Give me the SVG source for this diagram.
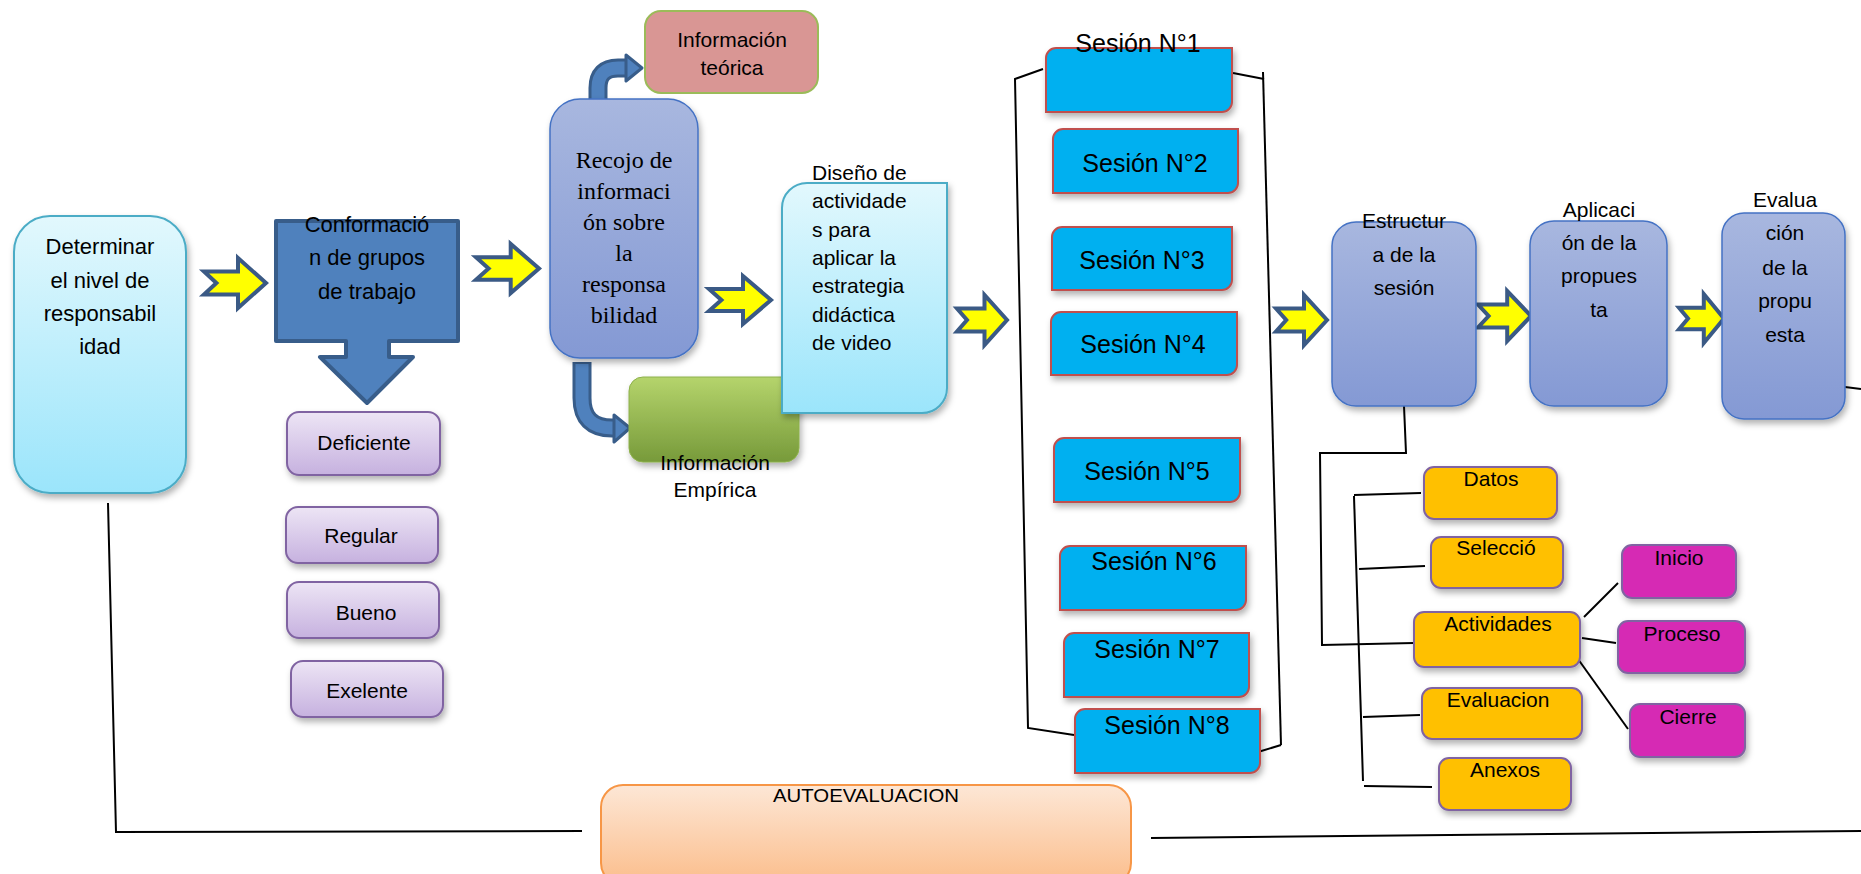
<svg xmlns="http://www.w3.org/2000/svg" width="1861" height="874" viewBox="0 0 1861 874">
<defs>
<linearGradient id="gCyan" x1="0" y1="0" x2="0" y2="1"><stop offset="0" stop-color="#e2f8fd"/><stop offset="1" stop-color="#9be5fb"/></linearGradient>
<linearGradient id="gPurple" x1="0" y1="0" x2="0" y2="1"><stop offset="0" stop-color="#ede5f5"/><stop offset="1" stop-color="#c6b1df"/></linearGradient>
<linearGradient id="gBlue" x1="0" y1="0" x2="0" y2="1"><stop offset="0" stop-color="#a8b7df"/><stop offset="1" stop-color="#8499d4"/></linearGradient>
<linearGradient id="gGreen" x1="0" y1="0" x2="0" y2="1"><stop offset="0" stop-color="#b5d46c"/><stop offset="1" stop-color="#779a3a"/></linearGradient>
<linearGradient id="gOrange" x1="0" y1="0" x2="0" y2="1"><stop offset="0" stop-color="#fde7d6"/><stop offset="1" stop-color="#fbbd8b"/></linearGradient>
<filter id="sh" x="-10%" y="-10%" width="130%" height="130%"><feDropShadow dx="2" dy="4" stdDeviation="3" flood-color="#000" flood-opacity="0.3"/></filter>
</defs>
<style>
.t{font-family:"Liberation Sans",Arial,sans-serif;fill:#000;text-anchor:middle}
.ts{font-family:"Liberation Serif","Times New Roman",serif;fill:#000;text-anchor:middle;font-size:24px}
.cyan{fill:url(#gCyan);stroke:#4bacc6;stroke-width:2}
.purple{fill:url(#gPurple);stroke:#8064a2;stroke-width:2}
.blue{fill:url(#gBlue);stroke:#4472c4;stroke-width:1.5}
.ses{fill:#00b0f0;stroke:#c0504d;stroke-width:2}
.orng{fill:#ffc000;stroke:#8064a2;stroke-width:2}
.mag{fill:#d62bb4;stroke:#8064a2;stroke-width:2}
.yarr{fill:#ffff00;stroke:#3b5a85;stroke-width:4;stroke-linejoin:miter}
.ln{stroke:#000;stroke-width:2;fill:none}
.s25{font-size:25px}
.s22{font-size:22px}
.s21{font-size:21px}
.s20{font-size:20px}
</style>

<g id="connectors">
<polygon class="yarr" points="204,271.5 238,271.5 238,258 266,283 238,308 238,294.5 204,294.5 216.4,283"/>
<polygon class="yarr" points="476,257.2 510.7,257.2 510.7,244 539,268.5 510.7,293 510.7,279.8 476,279.8 488.6,268.5"/>
<polygon class="yarr" points="709,289 743,289 743,276 771,300 743,324 743,311 709,311 721.4,300"/>
<polygon class="yarr" points="957,308.5 984.5,308.5 984.5,295 1007,320 984.5,345 984.5,331.5 957,331.5 967,320"/>
<polygon class="yarr" points="1276,308.5 1304,308.5 1304,295 1327,320 1304,345 1304,331.5 1276,331.5 1286.2,320"/>
<polygon class="yarr" points="1478,304.5 1507.2,304.5 1507.2,291 1531,316 1507.2,341 1507.2,327.5 1478,327.5 1488.6,316"/>
<polygon class="yarr" points="1679,307.7 1703.8,307.7 1703.8,294 1724,318.5 1703.8,343 1703.8,329.3 1679,329.3 1688,318.5"/>
<!-- curved arrows from Recojo -->
<path d="M598,126 V88 Q598,68 618,68 H627" fill="none" stroke="#385d8a" stroke-width="19"/>
<path d="M598,124 V88 Q598,68 618,68 H628" fill="none" stroke="#4f81bd" stroke-width="13"/>
<polygon points="626,55 642,68 626,81" fill="#4f81bd" stroke="#385d8a" stroke-width="3" stroke-linejoin="round"/>
<path d="M582,362 V398 Q582,428 612,428 H615" fill="none" stroke="#385d8a" stroke-width="19"/>
<path d="M582,364 V398 Q582,428 612,428 H616" fill="none" stroke="#4f81bd" stroke-width="13"/>
<polygon points="614,415 630,428 614,442" fill="#4f81bd" stroke="#385d8a" stroke-width="3" stroke-linejoin="round"/>
<!-- session brackets -->
<polyline class="ln" points="1043,69 1015,79 1028,728 1074,735"/>
<line class="ln" x1="1233" y1="73" x2="1264" y2="79"/>
<line class="ln" x1="1263" y1="72" x2="1281" y2="745"/>
<line class="ln" x1="1281" y1="745" x2="1258" y2="752"/>
<!-- structure tree -->
<polyline class="ln" points="1404,406 1406,453 1320,453 1322,645 1414,643"/>
<line class="ln" x1="1354" y1="496" x2="1363" y2="781"/>
<line class="ln" x1="1354" y1="495" x2="1421" y2="493"/>
<line class="ln" x1="1359" y1="569" x2="1425" y2="566"/>
<line class="ln" x1="1363" y1="717" x2="1420" y2="715"/>
<line class="ln" x1="1364" y1="786" x2="1432" y2="787"/>
<line class="ln" x1="1584" y1="617" x2="1618" y2="583"/>
<line class="ln" x1="1582" y1="638" x2="1616" y2="643"/>
<line class="ln" x1="1578" y1="659" x2="1628" y2="729"/>
<!-- autoevaluacion loop -->
<polyline class="ln" points="108,503 116,832 582,831"/>
<line class="ln" x1="1151" y1="838" x2="1861" y2="831"/>
<line class="ln" x1="1845" y1="387" x2="1861" y2="389"/>
</g>

<g id="n-determinar">
<rect class="cyan" x="14" y="216" width="172" height="277" rx="36" filter="url(#sh)"/>
<text class="t s22" x="100" y="254">Determinar</text>
<text class="t s22" x="100" y="288">el nivel de</text>
<text class="t s22" x="100" y="321">responsabil</text>
<text class="t s22" x="100" y="354">idad</text>
</g>

<g id="n-conformacion">
<path d="M276,221 H458 V341 H389 V357 H413 L367,403 L320,357 H346 V341 H276 Z" fill="#4f81bd" stroke="#385d8a" stroke-width="4" stroke-linejoin="round"/>
<text class="t s22" x="367" y="232">Conformació</text>
<text class="t s22" x="367" y="265">n de grupos</text>
<text class="t s22" x="367" y="299">de trabajo</text>
</g>

<g id="n-deficiente">
<rect class="purple" x="287" y="412" width="153" height="63" rx="12" filter="url(#sh)"/>
<text class="t s21" x="364" y="450">Deficiente</text>
</g>
<g id="n-regular">
<rect class="purple" x="286" y="507" width="152" height="56" rx="12" filter="url(#sh)"/>
<text class="t s21" x="361" y="543">Regular</text>
</g>
<g id="n-bueno">
<rect class="purple" x="287" y="582" width="152" height="56" rx="12" filter="url(#sh)"/>
<text class="t s21" x="366" y="620">Bueno</text>
</g>
<g id="n-exelente">
<rect class="purple" x="291" y="661" width="152" height="56" rx="12" filter="url(#sh)"/>
<text class="t s21" x="367" y="698">Exelente</text>
</g>

<g id="n-teorica">
<rect x="645" y="11" width="173" height="82" rx="16" fill="#d99694" stroke="#9bbb59" stroke-width="2"/>
<text class="t s21" x="732" y="47">Información</text>
<text class="t s21" x="732" y="75">teórica</text>
</g>

<g id="n-recojo">
<rect class="blue" x="550" y="99" width="148" height="259" rx="30" filter="url(#sh)"/>
<text class="ts" x="624" y="168">Recojo de</text>
<text class="ts" x="624" y="199">informaci</text>
<text class="ts" x="624" y="230">ón sobre</text>
<text class="ts" x="624" y="261">la</text>
<text class="ts" x="624" y="292">responsa</text>
<text class="ts" x="624" y="323">bilidad</text>
</g>

<g id="n-empirica">
<rect x="629" y="377" width="170" height="85" rx="14" fill="url(#gGreen)" stroke="#8cb04a" stroke-width="1" filter="url(#sh)"/>
<text class="t s21" x="715" y="470">Información</text>
<text class="t s21" x="715" y="497">Empírica</text>
</g>

<g id="n-diseno">
<path class="cyan" d="M807,183 H947 V388 A25,25 0 0 1 922,413 H782 V208 A25,25 0 0 1 807,183 Z" filter="url(#sh)"/>
<text class="t s21" x="812" y="180" style="text-anchor:start">Diseño de</text>
<text class="t s21" x="812" y="208" style="text-anchor:start">actividade</text>
<text class="t s21" x="812" y="237" style="text-anchor:start">s para</text>
<text class="t s21" x="812" y="265" style="text-anchor:start">aplicar la</text>
<text class="t s21" x="812" y="293" style="text-anchor:start">estrategia</text>
<text class="t s21" x="812" y="322" style="text-anchor:start">didáctica</text>
<text class="t s21" x="812" y="350" style="text-anchor:start">de video</text>
</g>

<g id="n-sesion1">
<path class="ses" d="M1056,48 H1232 V102 A10,10 0 0 1 1222,112 H1046 V58 A10,10 0 0 1 1056,48 Z" filter="url(#sh)"/>
<text class="t s25" x="1138" y="52">Sesión N°1</text>
</g>
<g id="n-sesion2">
<path class="ses" d="M1063,129 H1238 V183 A10,10 0 0 1 1228,193 H1053 V139 A10,10 0 0 1 1063,129 Z" filter="url(#sh)"/>
<text class="t s25" x="1145" y="172">Sesión N°2</text>
</g>
<g id="n-sesion3">
<path class="ses" d="M1062,227 H1232 V280 A10,10 0 0 1 1222,290 H1052 V237 A10,10 0 0 1 1062,227 Z" filter="url(#sh)"/>
<text class="t s25" x="1142" y="269">Sesión N°3</text>
</g>
<g id="n-sesion4">
<path class="ses" d="M1061,312 H1237 V365 A10,10 0 0 1 1227,375 H1051 V322 A10,10 0 0 1 1061,312 Z" filter="url(#sh)"/>
<text class="t s25" x="1143" y="353">Sesión N°4</text>
</g>
<g id="n-sesion5">
<path class="ses" d="M1064,438 H1240 V492 A10,10 0 0 1 1230,502 H1054 V448 A10,10 0 0 1 1064,438 Z" filter="url(#sh)"/>
<text class="t s25" x="1147" y="480">Sesión N°5</text>
</g>
<g id="n-sesion6">
<path class="ses" d="M1070,546 H1246 V600 A10,10 0 0 1 1236,610 H1060 V556 A10,10 0 0 1 1070,546 Z" filter="url(#sh)"/>
<text class="t s25" x="1154" y="570">Sesión N°6</text>
</g>
<g id="n-sesion7">
<path class="ses" d="M1074,633 H1249 V687 A10,10 0 0 1 1239,697 H1064 V643 A10,10 0 0 1 1074,633 Z" filter="url(#sh)"/>
<text class="t s25" x="1157" y="658">Sesión N°7</text>
</g>
<g id="n-sesion8">
<path class="ses" d="M1085,709 H1260 V763 A10,10 0 0 1 1250,773 H1075 V719 A10,10 0 0 1 1085,709 Z" filter="url(#sh)"/>
<text class="t s25" x="1167" y="734">Sesión N°8</text>
</g>

<g id="n-estructura">
<rect class="blue" x="1332" y="222" width="144" height="184" rx="24" filter="url(#sh)"/>
<text class="t s21" x="1404" y="228">Estructur</text>
<text class="t s21" x="1404" y="262">a de la</text>
<text class="t s21" x="1404" y="295">sesión</text>
</g>
<g id="n-aplicacion">
<rect class="blue" x="1530" y="221" width="137" height="185" rx="24" filter="url(#sh)"/>
<text class="t s21" x="1599" y="217">Aplicaci</text>
<text class="t s21" x="1599" y="250">ón de la</text>
<text class="t s21" x="1599" y="283">propues</text>
<text class="t s21" x="1599" y="317">ta</text>
</g>
<g id="n-evaluacion-propuesta">
<rect class="blue" x="1722" y="213" width="123" height="206" rx="22" filter="url(#sh)"/>
<text class="t s21" x="1785" y="207">Evalua</text>
<text class="t s21" x="1785" y="240">ción</text>
<text class="t s21" x="1785" y="275">de la</text>
<text class="t s21" x="1785" y="308">propu</text>
<text class="t s21" x="1785" y="342">esta</text>
</g>

<g id="n-datos">
<rect class="orng" x="1424" y="467" width="133" height="52" rx="10" filter="url(#sh)"/>
<text class="t s21" x="1491" y="486">Datos</text>
</g>
<g id="n-seleccio">
<rect class="orng" x="1431" y="537" width="132" height="51" rx="10" filter="url(#sh)"/>
<text class="t s21" x="1496" y="555">Selecció</text>
</g>
<g id="n-actividades">
<rect class="orng" x="1414" y="612" width="166" height="55" rx="10" filter="url(#sh)"/>
<text class="t s21" x="1498" y="631">Actividades</text>
</g>
<g id="n-evaluacion">
<rect class="orng" x="1422" y="688" width="160" height="51" rx="10" filter="url(#sh)"/>
<text class="t s21" x="1498" y="707">Evaluacion</text>
</g>
<g id="n-anexos">
<rect class="orng" x="1439" y="758" width="132" height="52" rx="10" filter="url(#sh)"/>
<text class="t s21" x="1505" y="777">Anexos</text>
</g>
<g id="n-inicio">
<rect class="mag" x="1622" y="545" width="114" height="53" rx="10" filter="url(#sh)"/>
<text class="t s21" x="1679" y="565">Inicio</text>
</g>
<g id="n-proceso">
<rect class="mag" x="1618" y="621" width="127" height="52" rx="10" filter="url(#sh)"/>
<text class="t s21" x="1682" y="641">Proceso</text>
</g>
<g id="n-cierre">
<rect class="mag" x="1630" y="704" width="115" height="53" rx="10" filter="url(#sh)"/>
<text class="t s21" x="1688" y="724">Cierre</text>
</g>

<g id="n-autoevaluacion">
<rect x="601" y="785" width="530" height="100" rx="22" fill="url(#gOrange)" stroke="#f79646" stroke-width="2"/>
<text class="t" x="866" y="802" font-size="19" textLength="186" lengthAdjust="spacingAndGlyphs">AUTOEVALUACION</text>
</g>
</svg>
